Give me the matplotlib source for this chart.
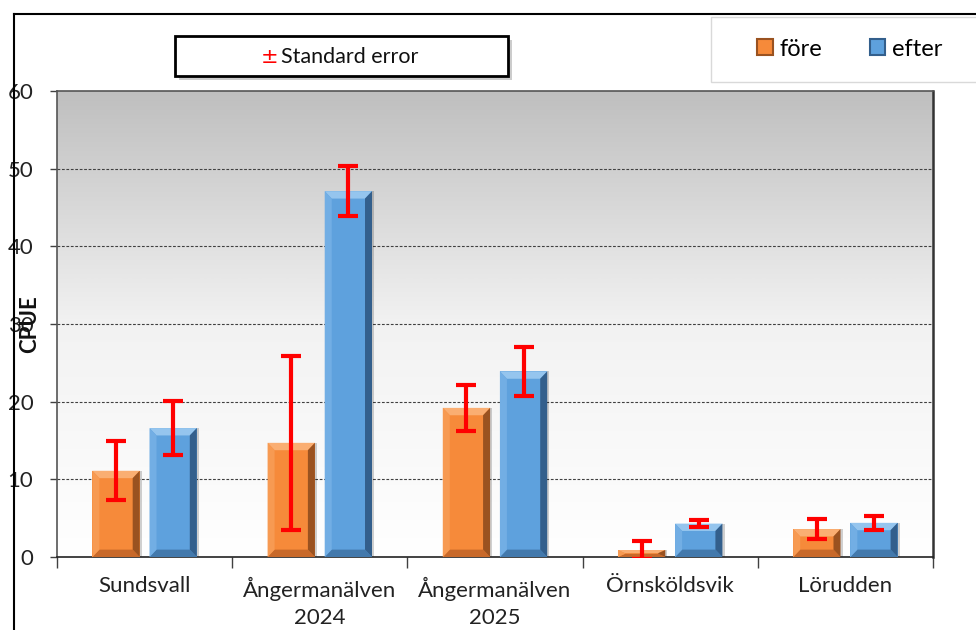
import matplotlib
matplotlib.use("Agg")
import matplotlib.pyplot as plt
import numpy as np
from matplotlib.patches import Polygon, Rectangle, Patch
from matplotlib.lines import Line2D
from matplotlib.colors import LinearSegmentedColormap

plt.rcParams['font.family'] = ['Lato', 'DejaVu Sans']

categories = ["Sundsvall", "Ångermanälven\n2024", "Ångermanälven\n2025", "Örnsköldsvik", "Lörudden"]
fore = [11.1, 14.7, 19.2, 0.9, 3.6]
efter = [16.6, 47.1, 23.9, 4.3, 4.4]
fore_se = [3.8, 11.2, 3.0, 1.2, 1.3]
efter_se = [3.5, 3.2, 3.2, 0.45, 0.9]
series_labels = ["före", "efter"]
yticks = [0, 10, 20, 30, 40, 50, 60]

W, H = 976, 630
fig = plt.figure(figsize=(W / 100, H / 100), dpi=100)
L, R, T, B = 57, 933, 91, 557
ax = fig.add_axes([L / W, 1 - B / H, (R - L) / W, (B - T) / H])

# gradient background
grad = np.linspace(0, 1, 256).reshape(-1, 1)
cmap = LinearSegmentedColormap.from_list("bg", ["#FFFFFF", "#F2F2F2", "#BFBFBF"])
ax.imshow(grad, aspect="auto", cmap=cmap, extent=(-0.5, 4.5, 0, 60), origin="lower", zorder=0)

ax.set_xlim(-0.5, 4.5)
ax.set_ylim(0, 60)
ax.set_yticks(yticks)
for v in yticks[1:-1]:
    ax.axhline(v, color="#404040", lw=0.8, ls=(0, (2.5, 1.5)), zorder=1)

x = np.arange(len(categories))
bw = 0.27
off = 0.163

colors = {
    "före": dict(base="#F68A3A", top="#FAAE72", left="#F79A52", right="#9A5220", bottom="#C8692A"),
    "efter": dict(base="#5EA1DD", top="#95C5EE", left="#72AEE4", right="#335F8C", bottom="#4379AC"),
}

def bevel_bar(xc, h, c):
    x0, x1 = xc - bw / 2, xc + bw / 2
    y0, y1 = 0.0, h
    bx = 0.04
    by = min(0.95, h * 0.45)
    ax.add_patch(Rectangle((x0 + 0.012, y0), bw, h, transform=ax.transData,
                           facecolor="#000000", alpha=0.18, zorder=2, lw=0,
                           clip_on=False))
    ax.bar(xc, h, width=bw, color=c["base"], zorder=3, lw=0)
    polys = [
        ([(x0, y1), (x1, y1), (x1 - bx, y1 - by), (x0 + bx, y1 - by)], c["top"]),
        ([(x0, y0), (x1, y0), (x1 - bx, y0 + by), (x0 + bx, y0 + by)], c["bottom"]),
        ([(x0, y0), (x0 + bx, y0 + by), (x0 + bx, y1 - by), (x0, y1)], c["left"]),
        ([(x1, y0), (x1 - bx, y0 + by), (x1 - bx, y1 - by), (x1, y1)], c["right"]),
    ]
    for pts, col in polys:
        ax.add_patch(Polygon(pts, closed=True, facecolor=col, lw=0, zorder=4))

for i in range(len(categories)):
    bevel_bar(x[i] - off, fore[i], colors["före"])
    bevel_bar(x[i] + off, efter[i], colors["efter"])

ax.errorbar(x - off, fore, yerr=fore_se, fmt="none", ecolor="#FF0000", elinewidth=3,
            capsize=7, capthick=3, zorder=6)
ax.errorbar(x + off, efter, yerr=efter_se, fmt="none", ecolor="#FF0000", elinewidth=3,
            capsize=7, capthick=3, zorder=6)

# axes styling
ax.set_xticks(x)
ax.set_xticklabels(categories, fontsize=16, color="#222222", linespacing=1.45)
ax.tick_params(axis="x", which="major", length=0, pad=14)
ax.set_xticks(np.arange(-0.5, 5.0, 1.0), minor=True)
ax.tick_params(axis="x", which="minor", length=8, width=1, color="#404040", direction="out")
ax.tick_params(axis="y", length=5, width=1, color="#404040", labelsize=16, labelcolor="#222222", pad=12)
for s in ["left", "right", "top"]:
    ax.spines[s].set_color("#555555")
    ax.spines[s].set_linewidth(1.2)
ax.spines["bottom"].set_color("#222222")
ax.spines["bottom"].set_linewidth(1.2)
ax.spines["right"].set_linewidth(1.8)
ax.spines["right"].set_color("#333333")

fig.text(30 / W, 1 - 324 / H, "CPUE", rotation=90, fontsize=16, fontweight="bold",
         ha="center", va="center", color="#111111")

# outer frame lines
fig.add_artist(Line2D([14 / W, 14 / W], [0, 1 - 14 / H], color="black", lw=1.5))
fig.add_artist(Line2D([14 / W, 1], [1 - 14 / H, 1 - 14 / H], color="black", lw=1.5))

# standard error box
fig.add_artist(Rectangle(((175 + 4) / W, 1 - (76 + 4) / H), 333 / W, 40 / H,
                         transform=fig.transFigure, facecolor="#000000", alpha=0.2, lw=0))
fig.add_artist(Rectangle((175 / W, 1 - 76 / H), 333 / W, 40 / H,
                         transform=fig.transFigure, facecolor="white", edgecolor="black", lw=2))
fig.text(270 / W, 1 - 57 / H, "±", color="#FF0000", fontsize=15, ha="center", va="center",
         family=["DejaVu Sans"])
fig.text(281 / W, 1 - 57 / H, "Standard error", color="#111111", fontsize=15.5, ha="left", va="center")

# legend box
fig.add_artist(Rectangle((711 / W, 1 - 82 / H), 300 / W, 65 / H,
                         transform=fig.transFigure, facecolor="white", edgecolor="#D9D9D9", lw=1))
handles = [Patch(facecolor=colors["före"]["base"], edgecolor=colors["före"]["right"], lw=1.5),
           Patch(facecolor=colors["efter"]["base"], edgecolor=colors["efter"]["right"], lw=1.5)]
fig.legend(handles, series_labels, loc="center", bbox_to_anchor=(850 / W, 1 - 49 / H),
           ncol=2, frameon=False, fontsize=17, handlelength=0.65, handleheight=0.65,
           handletextpad=0.3, columnspacing=2.0)

fig.savefig("out.png", dpi=100)
